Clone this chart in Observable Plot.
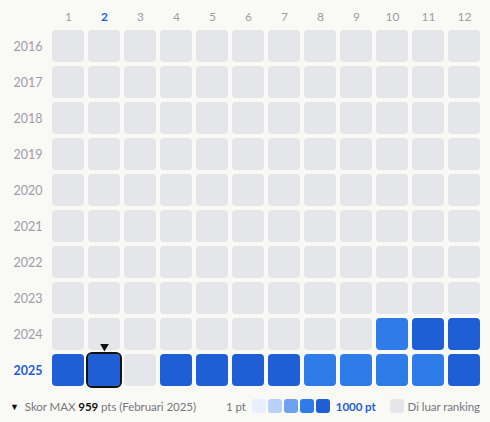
<!DOCTYPE html>
<html>
<head>
<meta charset="utf-8">
<script src="https://cdn.jsdelivr.net/npm/d3@7"></script>
<script src="https://cdn.jsdelivr.net/npm/@observablehq/plot@0.6"></script>
<style>
  html, body { margin: 0; padding: 0; background: #f9f9f6; }
  body { width: 490px; height: 422px; overflow: hidden; font-family: Lato, "Noto Sans", sans-serif; }
  #legend { display: flex; justify-content: space-between; align-items: center; padding: 0 10px 0 10px; height: 28px; font-size: 11.6px; letter-spacing: -0.1px; color: #7a7680; }
  #legend .sw { display: inline-block; width: 14px; height: 14px; border-radius: 3px; margin-right: 2px; vertical-align: middle; }
  #legend .grp { display: flex; align-items: center; }
</style>
</head>
<body>
<div id="chart"></div>
<div id="legend"></div>
<script>
const years = [2016, 2017, 2018, 2019, 2020, 2021, 2022, 2023, 2024, 2025];
const months = [1, 2, 3, 4, 5, 6, 7, 8, 9, 10, 11, 12];
const emptyYears = [2016, 2017, 2018, 2019, 2020, 2021, 2022, 2023];
const scores2024 = [null, null, null, null, null, null, null, null, null, 720, 880, 860];
const scores2025 = [900, 959, null, 880, 870, 890, 860, 700, 690, 710, 720, 850];
const thresholds = [200, 400, 600, 800];
const palette = ["#e8f0fe", "#b9d1fa", "#6ea1ef", "#2f7ce9", "#1f5fd6"];
const maxScore = 959, maxMonth = 2, maxYear = 2025;

const rows = [];
for (const y of emptyYears) for (const m of months) rows.push({year: y, month: m, v: null});
months.forEach((m, i) => rows.push({year: 2024, month: m, v: scores2024[i]}));
months.forEach((m, i) => rows.push({year: 2025, month: m, v: scores2025[i]}));
const scored = rows.filter(d => d.v != null);
const maxCell = rows.filter(d => d.year === maxYear && d.month === maxMonth);

const gray = "#a09ca6";
const blue = "#1f5fd6";

const plot = Plot.plot({
  width: 490,
  height: 392,
  marginTop: 28,
  marginLeft: 50,
  marginRight: 8,
  marginBottom: 4,
  style: {fontFamily: "Lato, 'Noto Sans', sans-serif", fontSize: "12px", background: "#f9f9f6"},
  x: {type: "band", domain: months, padding: 0, axis: null},
  y: {type: "band", domain: years, padding: 0, axis: null},
  color: {type: "threshold", domain: thresholds, range: palette},
  marks: [
    Plot.axisX(months.filter(m => m !== maxMonth), {anchor: "top", label: null, tickSize: 0, tickPadding: 8, fill: gray, fontSize: 12}),
    Plot.axisX([maxMonth], {anchor: "top", label: null, tickSize: 0, tickPadding: 8, fill: blue, fontWeight: "bold", fontSize: 12}),
    Plot.axisY(years.filter(y => y !== maxYear), {anchor: "left", label: null, tickFormat: d => String(d), tickSize: 0, tickPadding: 8, fill: gray, fontSize: 12.5}),
    Plot.axisY([maxYear], {anchor: "left", label: null, tickFormat: d => String(d), tickSize: 0, tickPadding: 8, fill: blue, fontWeight: "bold", fontSize: 12.5}),
    Plot.cell(rows, {x: "month", y: "year", fill: "#e5e6ea", inset: 2, rx: 4}),
    Plot.cell(scored, {x: "month", y: "year", fill: "v", inset: 2, rx: 4}),
    Plot.cell(maxCell, {x: "month", y: "year", fill: "none", stroke: "#111", strokeWidth: 2, inset: 1, rx: 5}),
    Plot.dot(maxCell, {x: "month", y: "year", symbol: "triangle", r: 3.2, rotate: 180, fill: "#111", stroke: null, dy: -24})
  ]
});
document.getElementById("chart").appendChild(plot);

const fmtMonth = ["Januari","Februari","Maret","April","Mei","Juni","Juli","Agustus","September","Oktober","November","Desember"];
const legend = document.getElementById("legend");
legend.innerHTML = `
  <div class="grp"><span style="font-size:9px;color:#111;margin-right:6px">▼</span>
  <span>Skor MAX <b style="color:#111">${maxScore}</b> pts (${fmtMonth[maxMonth-1]} ${maxYear})</span></div>
  <div class="grp"><span style="margin-right:6px">1 pt</span>
  ${palette.map(c => `<span class="sw" style="background:${c}"></span>`).join("")}
  <b style="color:${blue};margin-left:4px;margin-right:14px">1000 pt</b>
  <span class="sw" style="background:#e5e6ea;margin-right:4px"></span><span>Di luar ranking</span></div>`;
</script>
</body>
</html>
